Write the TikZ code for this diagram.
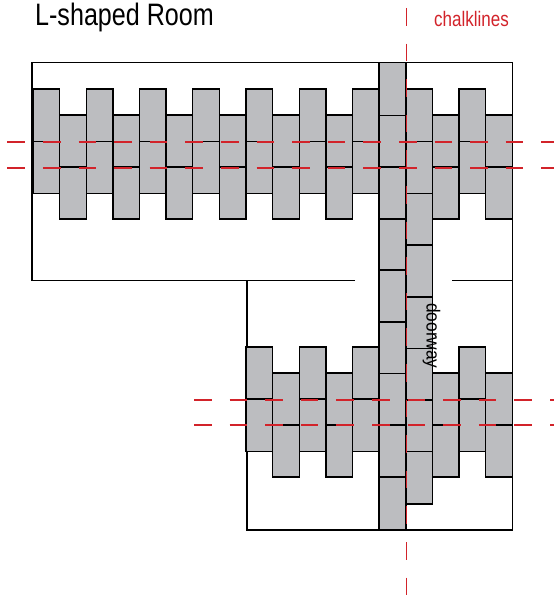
\documentclass[tikz,border=0pt]{standalone}
\usepackage{fontspec}
\setmainfont{Liberation Sans}
\definecolor{brickgray}{HTML}{BCBDC0}
\definecolor{chalkred}{HTML}{D2232A}
\tikzset{
  wall/.style={draw=black,line width=1.4pt,line join=miter},
  brick/.style={draw=black,fill=brickgray,line width=1.4pt,line join=miter},
  chalk/.style={draw=chalkred,line width=1.5pt,dash pattern=on 17.6pt off 18pt},
  label/.style={inner sep=0pt,anchor=base west}
}
\newcommand{\colx}[1]{33+26.63*#1}
\begin{document}
\begin{tikzpicture}[x=1pt,y=-1pt]
\useasboundingbox (0,0) rectangle (554,599);
% room outline
\draw[wall] (355,280.5) -- (32,280.5) -- (32,62.5) -- (512.5,62.5) -- (512.5,530) -- (247,530) -- (247,280.5);
\draw[wall] (452,280.5) -- (512.5,280.5);
% upper band, tall-offset columns
\foreach \k in {0,2,...,16}{
  \foreach \a/\b in {89/141.5,141.5/193.5}
    \draw[brick] ({\colx{\k}},\a) rectangle ({\colx{(\k+1)}},\b);
}
\foreach \k in {1,3,...,11,15,17}{
  \foreach \a/\b in {115/167,167/219}
    \draw[brick] ({\colx{\k}},\a) rectangle ({\colx{(\k+1)}},\b);
}
% lower band
\foreach \k in {8,10,12,16}{
  \foreach \a/\b in {347/399,399/451.5}
    \draw[brick] ({\colx{\k}},\a) rectangle ({\colx{(\k+1)}},\b);
}
\foreach \k in {9,11,15,17}{
  \foreach \a/\b in {373/425,425/477}
    \draw[brick] ({\colx{\k}},\a) rectangle ({\colx{(\k+1)}},\b);
}
% central spine
\foreach \a/\b in {62.5/115.5,115.5/167,167/219,219/270,270/322,322/373.5,373.5/425,425/477,477/529.5}
  \draw[brick] ({\colx{13}},\a) rectangle ({\colx{14}},\b);
\foreach \a/\b in {89/141.5,141.5/193.5,193.5/245,245/297,297/348.5,348.5/400,400/451.5,451.5/504}
  \draw[brick] ({\colx{14}},\a) rectangle ({\colx{15}},\b);
% chalk lines
\coordinate (vt) at (406.5,8);
\coordinate (vb) at (406.5,597);
\coordinate (h1l) at (7.3,142);
\coordinate (h1r) at (554,142);
\coordinate (h2l) at (7.3,168.2);
\coordinate (h2r) at (554,168.2);
\coordinate (h3l) at (194,400);
\coordinate (h3r) at (554,400);
\coordinate (h4l) at (194,425.2);
\coordinate (h4r) at (554,425.2);
\draw[chalk] (vt) -- (vb);
\draw[chalk] (h1l) -- (h1r);
\draw[chalk] (h2l) -- (h2r);
\draw[chalk] (h3l) -- (h3r);
\draw[chalk] (h4l) -- (h4r);
% labels
\node[label,xscale=0.81] (title) at (35,26) {\fontsize{31}{31}\selectfont L-shaped Room};
\node[label,xscale=0.81,text=chalkred] (chalklabel) at (434,26.5) {\fontsize{21}{21}\selectfont chalklines};
\node[label,rotate=-90,xscale=0.91] (door) at (426.5,303) {\fontsize{19}{19}\selectfont doorway};
\end{tikzpicture}
\end{document}
